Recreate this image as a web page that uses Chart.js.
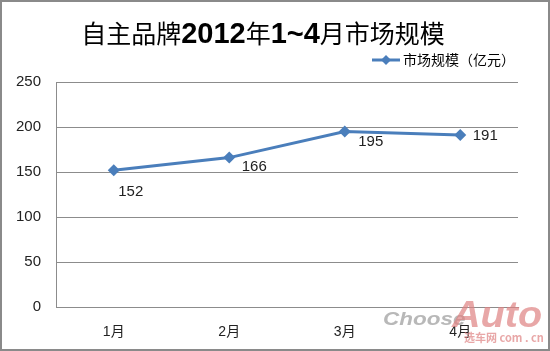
<!DOCTYPE html>
<html>
<head>
<meta charset="utf-8">
<script src="https://cdn.jsdelivr.net/npm/chart.js@4/dist/chart.umd.min.js"></script>
<style>
  html, body { margin: 0; padding: 0; background: #fff; }
  #wrap {
    position: relative;
    width: 550px;
    height: 351px;
    box-sizing: border-box;
    border: 2px solid #8a8a8a;
  }
  #chart { position: absolute; left: -2px; top: -2px; }
</style>
</head>
<body>
<div id="wrap"><canvas id="chart" width="550" height="351"></canvas></div>
<script>
// Data
const months = ["1月", "2月", "3月", "4月"];
const marketSize = [152, 166, 195, 191];
const yTicks = [0, 50, 100, 150, 200, 250];
const seriesName = "市场规模（亿元）";
// Title parts: [text, bold]
const titleParts = [["自主品牌", false], ["2012", true], ["年", false], ["1~4", true], ["月市场规模", false]];

const BLUE = "#4a7ebb";
const FONT = "'Liberation Sans', 'Noto Sans CJK SC', sans-serif";
const NARROW = "'Liberation Sans Narrow', 'Liberation Sans', sans-serif";
const CJK = "'Noto Sans CJK SC', 'Liberation Sans', sans-serif";
// per-label nudge (style only), relative to the point
const labelShift = [[17, 22], [25, 9], [26, 10], [25, 1]];

function titleFont(bold) {
  return bold ? "bold 29px " + NARROW : "25px " + CJK;
}

const decorPlugin = {
  id: "decor",
  afterDraw(chart) {
    const ctx = chart.ctx;
    ctx.save();

    // title with mixed weights
    let total = 0;
    const parts = titleParts.map(([t, b]) => {
      ctx.font = titleFont(b);
      const w = ctx.measureText(t).width;
      total += w;
      return { t, b, w };
    });
    let x = 263 - total / 2;
    ctx.fillStyle = "#000";
    ctx.textBaseline = "alphabetic";
    ctx.textAlign = "left";
    for (const p of parts) {
      ctx.font = titleFont(p.b);
      ctx.fillText(p.t, x, 43);
      x += p.w;
    }

    // legend
    ctx.textBaseline = "middle";
    ctx.strokeStyle = BLUE;
    ctx.lineWidth = 3;
    ctx.beginPath();
    ctx.moveTo(372, 60);
    ctx.lineTo(400, 60);
    ctx.stroke();
    ctx.fillStyle = BLUE;
    ctx.beginPath();
    ctx.moveTo(386, 55);
    ctx.lineTo(391, 60);
    ctx.lineTo(386, 65);
    ctx.lineTo(381, 60);
    ctx.closePath();
    ctx.fill();
    ctx.fillStyle = "#000";
    ctx.font = "14px " + CJK;
    ctx.fillText(seriesName, 403, 60);

    // data labels
    const meta = chart.getDatasetMeta(0);
    ctx.font = "15px " + FONT;
    ctx.fillStyle = "#222";
    ctx.textAlign = "center";
    meta.data.forEach((pt, i) => {
      const [dx, dy] = labelShift[i];
      ctx.fillText(String(marketSize[i]), pt.x + dx, pt.y + dy);
    });

    // watermark
    ctx.textAlign = "left";
    ctx.textBaseline = "alphabetic";
    ctx.save();
    ctx.translate(383, 325);
    ctx.scale(1.25, 1);
    ctx.fillStyle = "rgba(160,160,160,0.75)";
    ctx.font = "italic bold 18px 'Liberation Sans', sans-serif";
    ctx.fillText("Choose", 0, 0);
    ctx.restore();
    ctx.save();
    ctx.translate(452, 327);
    ctx.scale(1.1, 1);
    ctx.fillStyle = "rgba(222,130,130,0.7)";
    ctx.font = "italic bold 36px 'Liberation Sans', sans-serif";
    ctx.fillText("Auto", 0, 0);
    ctx.restore();
    ctx.fillStyle = "rgba(222,130,130,0.7)";
    ctx.font = "bold 11px " + CJK;
    ctx.fillText("选车网 com . cn", 464, 342);

    ctx.restore();
  }
};

new Chart(document.getElementById("chart"), {
  type: "line",
  data: {
    labels: months,
    datasets: [{
      label: seriesName,
      data: marketSize,
      borderColor: BLUE,
      backgroundColor: BLUE,
      borderWidth: 3,
      pointStyle: "rectRot",
      pointRadius: 6,
      pointBorderWidth: 0,
      tension: 0,
    }],
  },
  options: {
    responsive: false,
    animation: false,
    layout: { padding: { top: 82, right: 32, left: 0, bottom: 0 } },
    plugins: {
      legend: { display: false },
      title: { display: false },
      tooltip: { enabled: false },
    },
    scales: {
      x: {
        offset: true,
        grid: { display: false, drawTicks: false },
        border: { display: true, color: "#8c8c8c", width: 1 },
        ticks: { color: "#222", font: { size: 14, family: FONT }, padding: 17 },
        afterFit: (s) => { s.height = 44; },
      },
      y: {
        min: 0,
        max: 250,
        afterBuildTicks: (s) => { s.ticks = yTicks.map((v) => ({ value: v })); },
        grid: { color: "#8c8c8c", drawTicks: false },
        border: { display: true, color: "#8c8c8c", width: 1 },
        ticks: { color: "#222", font: { size: 15, family: FONT }, padding: 15 },
        afterFit: (s) => { s.width = 56; },
      },
    },
  },
  plugins: [decorPlugin],
});
</script>
</body>
</html>
